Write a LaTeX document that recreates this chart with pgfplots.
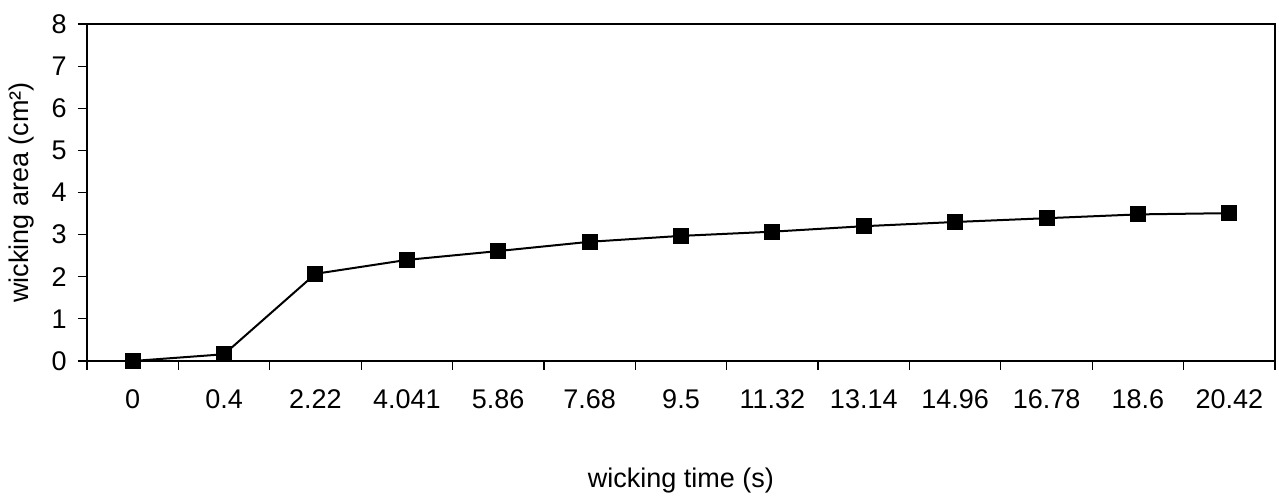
\documentclass[border=0pt]{standalone}
\usepackage{fontspec}
\setmainfont{Liberation Sans}
\usepackage{pgfplots}
\pgfplotsset{compat=1.18}
\begin{document}
\fontsize{13.5}{16}\selectfont
\begin{tikzpicture}
\begin{axis}[
  name=ax,
  scale only axis,
  width=594pt, height=168.5pt,
  xmin=-0.5, xmax=12.5,
  ymin=0, ymax=8,
  ytick={0,1,...,8},
  xtick={0,...,12},
  xticklabels={0,0.4,2.22,4.041,5.86,7.68,9.5,11.32,13.14,14.96,16.78,18.6,20.42},
  minor xtick={-0.5,0.5,...,12.5},
  major x tick style={draw=none},
  tick align=outside,
  major tick length=4.5pt,
  minor tick length=4.5pt,
  tick style={black, line width=0.6pt},
  axis line style={black, line width=0.8pt},
  xtick pos=bottom, ytick pos=left,
  /pgf/number format/assume math mode=true,
  ticklabel style={font=\fontsize{13.5}{16}\selectfont},
  xticklabel style={yshift=-5pt},
  yticklabel style={xshift=-1pt},
  xlabel={wicking time (s)},
  ylabel={wicking area (cm²)},
  label style={font=\fontsize{13.5}{16}\selectfont},
  xlabel style={at={([yshift=-60pt]axis description cs:0.5,0)}, anchor=center},
  ylabel style={at={([xshift=-32.5pt]axis description cs:0,0.5)}, anchor=center},
]
\addplot[black, line width=1pt, mark=square*, mark size=3.5pt, mark options={solid}] coordinates {
(0,0) (1,0.16) (2,2.07) (3,2.40) (4,2.61) (5,2.83) (6,2.97) (7,3.07) (8,3.20) (9,3.30) (10,3.39) (11,3.48) (12,3.51)
};
\end{axis}
\pgfresetboundingbox
\path (ax.south west) ++(-43.5pt,-68pt) coordinate (bl);
\path (ax.north east) ++(2pt,12pt) coordinate (tr);
\path (bl) rectangle (tr);
\end{tikzpicture}
\end{document}
